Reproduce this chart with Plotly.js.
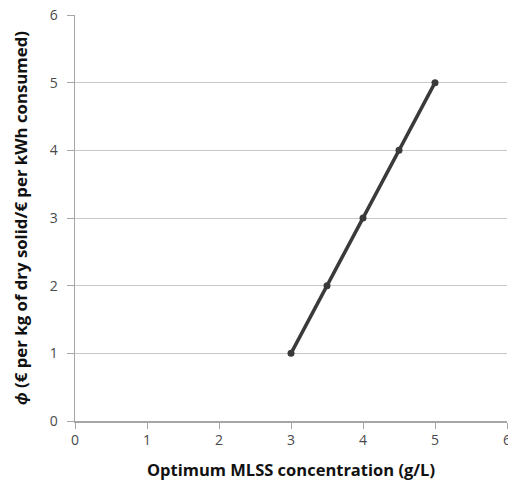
<!DOCTYPE html>
<html><head><meta charset="utf-8">
<script src="https://cdn.plot.ly/plotly-3.0.1.min.js"></script>
<style>html,body{margin:0;padding:0;background:#fff}#chart{width:508px;height:490px}</style>
</head><body><div id="chart"></div>
<script>
const mlss = [3, 3.5, 4, 4.5, 5];
const phi = [1, 2, 3, 4, 5];
const xTicks = [0, 1, 2, 3, 4, 5, 6];
const yTicks = [0, 1, 2, 3, 4, 5, 6];
const xTitle = 'Optimum MLSS concentration (g/L)';
const yTitle = '<i>ϕ</i> (€ per kg of dry solid/€ per kWh consumed)';

Plotly.newPlot('chart', [{
  x: mlss, y: phi, type: 'scatter', mode: 'lines+markers',
  line: {color: '#3a3a3a', width: 3.5},
  marker: {color: '#3a3a3a', size: 7},
  showlegend: false, cliponaxis: false
}], {
  width: 508, height: 490,
  margin: {l: 75, r: 1, t: 15, b: 69},
  paper_bgcolor: '#fff', plot_bgcolor: '#fff',
  font: {family: 'Open Sans, sans-serif', color: '#404040', size: 14},
  xaxis: {
    range: [0, 6], tickvals: xTicks, ticktext: xTicks.map(String),
    showgrid: false, zeroline: false, showline: true, linecolor: '#a6a6a6', linewidth: 1.5,
    ticks: 'outside', ticklen: 6, tickcolor: '#a6a6a6', tickfont: {size: 14, color: '#4a4a4a'},
    automargin: false, ticklabeloverflow: 'allow',
    title: {text: xTitle, font: {size: 16.5, color: '#111', weight: 'bold'}, standoff: 16}
  },
  yaxis: {
    range: [0, 6], tickvals: yTicks, ticktext: yTicks.map(String),
    showgrid: true, gridcolor: '#c8c8c8', gridwidth: 1,
    zeroline: false, showline: true, linecolor: '#a6a6a6', linewidth: 1.5,
    ticks: 'outside', ticklen: 7, tickcolor: '#a6a6a6', tickfont: {size: 14, color: '#4a4a4a'},
    ticklabelstandoff: 6, automargin: false,
    title: {text: yTitle, font: {size: 16.8, color: '#111', weight: 'bold'}, standoff: 18}
  }
}, {displayModeBar: false, staticPlot: true});
</script></body></html>
